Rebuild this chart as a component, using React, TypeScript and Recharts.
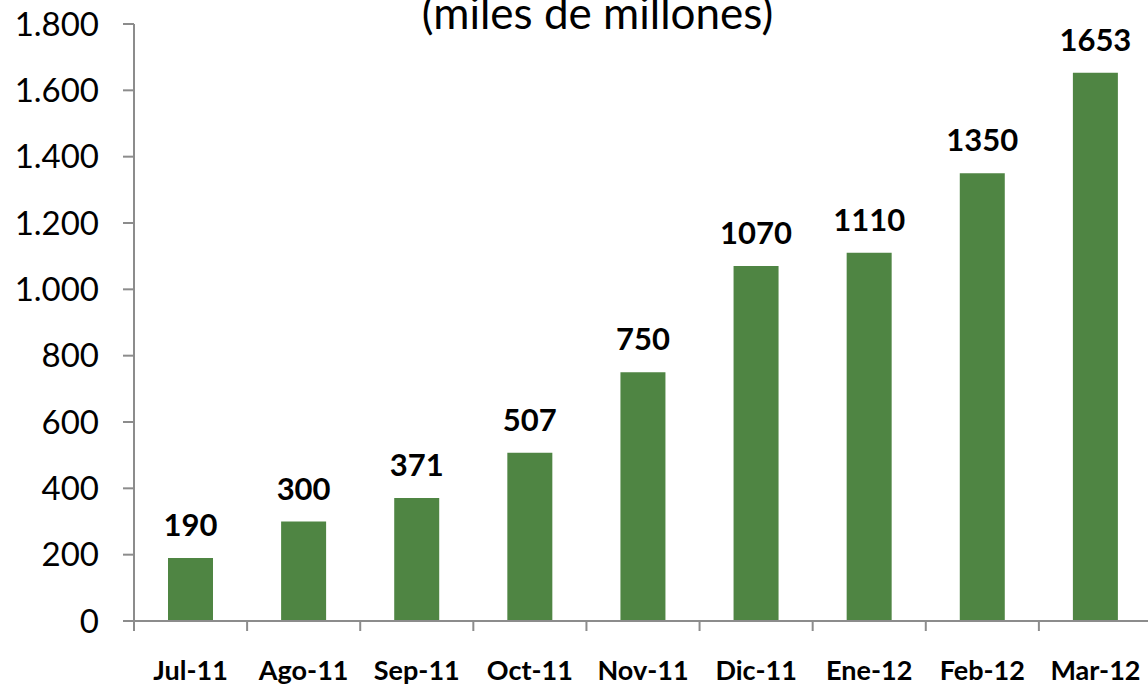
import { Bar, BarChart, LabelList, XAxis, YAxis } from "recharts"

const months = ["Jul-11", "Ago-11", "Sep-11", "Oct-11", "Nov-11", "Dic-11", "Ene-12", "Feb-12", "Mar-12"]
const values = [190, 300, 371, 507, 750, 1070, 1110, 1350, 1653]
const yTicks = [0, 200, 400, 600, 800, 1000, 1200, 1400, 1600, 1800]
const title = "(miles de millones)"

const chartWidth = 1160
const chartHeight = 687
const axisWidth = 134
const marginRight = 8
const band = (chartWidth - axisWidth - marginRight) / months.length

const data = months.map((month, i) => ({ month, value: values[i] }))

function formatThousands(value: number) {
  return String(value).replace(/\B(?=(\d{3})+(?!\d))/g, ".")
}

type TickProps = {
  x?: number
  y?: number
  payload?: { value: string }
}

// category tick marks sit on the band edges, labels in the middle
function MonthTick({ x = 0, y = 0, payload }: TickProps) {
  const left = x - band / 2
  return (
    <g>
      <line x1={left} y1={y} x2={left} y2={y + 10} stroke="#8c8c8c" strokeWidth={2} />
      <text
        x={x}
        y={y + 59}
        textAnchor="middle"
        fill="#000"
        fontSize={27}
        fontWeight="bold"
        fontFamily="Lato, sans-serif"
      >
        {payload?.value}
      </text>
    </g>
  )
}

export default function App() {
  return (
    <div style={{ position: "fixed", left: 0, top: 0, width: 1148, height: 687, overflow: "hidden", background: "#fff" }}>
      <div
        style={{
          position: "absolute",
          left: 0,
          width: 1195,
          top: -13,
          textAlign: "center",
          fontFamily: "Lato, sans-serif",
          fontSize: 44,
          lineHeight: "50px",
          color: "#000",
          whiteSpace: "nowrap"
        }}
      >
        {title}
      </div>
      <BarChart
        width={chartWidth}
        height={chartHeight}
        data={data}
        margin={{ top: 24, right: marginRight, bottom: 10, left: 0 }}
        barCategoryGap={0}
      >
        <XAxis
          dataKey="month"
          axisLine={{ stroke: "#8c8c8c", strokeWidth: 2 }}
          tickLine={false}
          tickSize={0}
          tickMargin={0}
          height={56}
          interval={0}
          tick={<MonthTick />}
        />
        <YAxis
          domain={[0, 1800]}
          ticks={yTicks}
          width={axisWidth}
          interval={0}
          axisLine={{ stroke: "#8c8c8c", strokeWidth: 2 }}
          tickLine={{ stroke: "#8c8c8c", strokeWidth: 2 }}
          tickSize={11}
          tickMargin={24}
          tickFormatter={formatThousands}
          tick={{ fill: "#000", fontSize: 33, fontFamily: "Lato, sans-serif" }}
        />
        <Bar dataKey="value" fill="#4f8543" barSize={45} isAnimationActive={false}>
          <LabelList
            dataKey="value"
            position="top"
            offset={22}
            fill="#000"
            fontSize={31}
            fontWeight="bold"
            fontFamily="Lato, sans-serif"
          />
        </Bar>
      </BarChart>
    </div>
  )
}
